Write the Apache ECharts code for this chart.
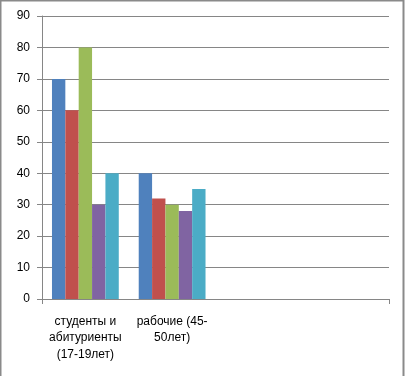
<!DOCTYPE html>
<html>
<head>
<meta charset="utf-8">
<script src="https://cdn.jsdelivr.net/npm/echarts@6/dist/echarts.min.js"></script>
<style>
    html, body { margin: 0; padding: 0; background: #fff; }
    #chart { width: 405px; height: 376px; }
</style>
</head>
<body>
<div id="chart"></div>
<script>
// categories (last two are empty slots, as in the source sheet)
const categories = ['студенты и\nабитуриенты\n(17-19лет)', 'рабочие (45-\n50лет)', '', '']
const series1 = [70, 40]
const series2 = [60, 32]
const series3 = [80, 30]
const series4 = [30, 28]
const series5 = [40, 35]
const colors = ['#4F81BD', '#C0504D', '#9BBB59', '#8064A2', '#4BACC6']

const chart = echarts.init(document.getElementById('chart'))
const gray = '#868686'
const font = 'Liberation Sans'

const seriesArr = [series1, series2, series3, series4, series5].map((vals, i) => {
    return {
        type: 'bar',
        data: vals,
        barGap: '0%',
        barCategoryGap: '23%',
        itemStyle: { color: colors[i] },
        animation: false
    }
})

chart.setOption({
    animation: false,
    grid: { left: 42, right: 16, top: 16, bottom: 77 },
    graphic: [{
        type: 'rect',
        shape: { x: 0.5, y: 0.5, width: 403, height: 390 },
        style: { fill: 'none', stroke: '#8a8a8a', lineWidth: 2 },
        silent: true
    }],
    xAxis: {
        type: 'category',
        data: categories,
        axisLine: { lineStyle: { color: gray } },
        // only the two end ticks are drawn in the original
        axisTick: {
            show: true,
            length: 5,
            interval: (index) => index === 0 || index === categories.length,
            lineStyle: { color: gray }
        },
        axisLabel: {
            interval: 0,
            margin: 14,
            color: '#000',
            fontFamily: font,
            fontSize: 12,
            lineHeight: 16.5
        }
    },
    yAxis: {
        type: 'value',
        min: 0,
        max: 90,
        interval: 10,
        axisLine: { show: true, lineStyle: { color: gray } },
        axisTick: { show: true, length: 5, lineStyle: { color: gray } },
        splitLine: { lineStyle: { color: gray } },
        axisLabel: {
            margin: 12,
            color: '#000',
            fontFamily: font,
            fontSize: 12
        }
    },
    series: seriesArr
})
</script>
</body>
</html>
